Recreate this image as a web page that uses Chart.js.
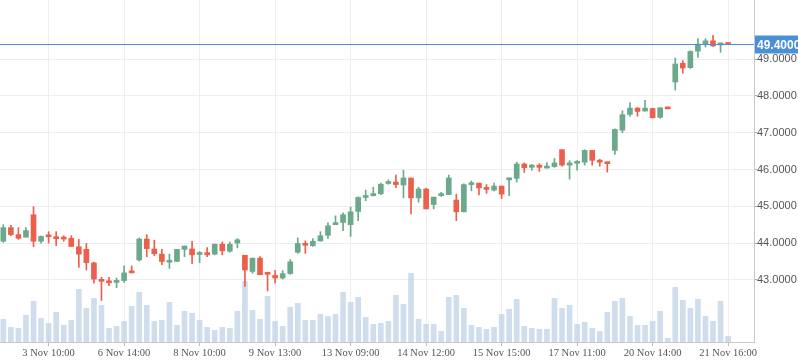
<!DOCTYPE html>
<html>
<head>
<meta charset="utf-8">
<script src="https://cdn.jsdelivr.net/npm/chart.js@4.4.1/dist/chart.umd.min.js"></script>
<style>
  html, body { margin: 0; padding: 0; background: #fff; }
  #wrap { width: 798px; height: 363px; }
</style>
</head>
<body>
<div id="wrap"><canvas id="c" width="798" height="363"></canvas></div>
<script>
// candles, one per period
const opens = [
  44.05, 44.42, 44.23, 44.16, 44.77, 44.05, 44.18, 44.13, 44.13, 44.13,
  43.90, 43.83, 43.46, 42.98, 42.97, 42.93, 42.98, 43.20, 43.54, 44.11,
  43.84, 43.70, 43.48, 43.50, 43.83, 43.84, 43.69, 43.74, 43.70, 43.97,
  43.78, 44.00, 43.67, 43.23, 43.59, 43.16, 43.12, 43.05, 43.17, 43.75,
  43.99, 43.93, 44.06, 44.21, 44.50, 44.56, 44.50, 44.86, 45.24, 45.29,
  45.34, 45.62, 45.66, 45.58, 45.77, 45.23, 45.47, 45.05, 45.29, 45.32,
  45.17, 44.85, 45.59, 45.63, 45.50, 45.44, 45.55, 45.72, 45.76, 46.15,
  46.06, 46.12, 46.04, 46.08, 46.54, 46.12, 46.17, 46.20, 46.52, 46.24,
  46.17, 46.52, 47.07, 47.50, 47.67, 47.59, 47.66, 47.42, 47.66, 48.38,
  48.89, 48.77, 49.22, 49.41, 49.50, 49.39, 49.41
];
const highs = [
  44.50, 44.48, 44.42, 44.42, 44.99, 44.20, 44.31, 44.31, 44.20, 44.20,
  44.10, 43.99, 43.48, 43.07, 43.07, 43.05, 43.38, 43.38, 44.14, 44.23,
  44.08, 43.83, 43.70, 43.83, 43.92, 44.05, 43.77, 43.88, 43.97, 44.03,
  44.03, 44.12, 43.67, 43.59, 43.63, 43.21, 43.26, 43.25, 43.55, 44.14,
  44.06, 44.12, 44.31, 44.55, 44.74, 44.82, 44.98, 45.26, 45.44, 45.52,
  45.63, 45.72, 45.85, 45.98, 45.77, 45.52, 45.49, 45.25, 45.38, 45.85,
  45.33, 45.61, 45.69, 45.63, 45.59, 45.63, 45.55, 45.77, 46.20, 46.18,
  46.14, 46.16, 46.19, 46.30, 46.54, 46.24, 46.24, 46.54, 46.52, 46.28,
  46.18, 47.11, 47.60, 47.82, 47.69, 47.88, 47.67, 47.68, 47.66, 49.03,
  48.96, 49.23, 49.56, 49.56, 49.65, 49.44, 49.41
];
const lows = [
  44.02, 44.20, 44.10, 44.16, 43.90, 44.00, 44.00, 43.93, 44.05, 43.91,
  43.34, 43.27, 42.91, 42.44, 42.84, 42.79, 42.93, 43.19, 43.51, 43.63,
  43.66, 43.41, 43.31, 43.50, 43.63, 43.44, 43.47, 43.63, 43.68, 43.68,
  43.75, 43.87, 42.82, 43.18, 43.14, 42.70, 42.91, 43.02, 43.15, 43.72,
  43.72, 43.91, 44.05, 44.13, 44.50, 44.34, 44.18, 44.61, 45.15, 45.28,
  45.32, 45.60, 45.51, 45.23, 44.79, 45.11, 44.93, 44.93, 45.27, 45.32,
  44.61, 44.85, 45.42, 45.31, 45.35, 45.42, 45.21, 45.29, 45.66, 45.92,
  45.98, 45.95, 46.04, 46.06, 46.09, 45.74, 45.98, 46.12, 46.12, 46.09,
  45.93, 46.41, 47.00, 47.45, 47.45, 47.59, 47.40, 47.40, 47.65, 48.16,
  48.62, 48.75, 49.05, 49.33, 49.35, 49.19, 49.40
];
const closes = [
  44.42, 44.23, 44.13, 44.34, 44.05, 44.18, 44.17, 44.12, 44.11, 43.91,
  43.70, 43.47, 43.02, 42.96, 42.92, 42.98, 43.19, 43.19, 44.11, 43.85,
  43.71, 43.50, 43.49, 43.83, 43.92, 43.68, 43.74, 43.68, 43.97, 43.79,
  43.97, 44.09, 43.27, 43.59, 43.14, 43.15, 43.05, 43.17, 43.49, 43.99,
  43.94, 44.05, 44.20, 44.47, 44.55, 44.77, 44.85, 45.24, 45.28, 45.33,
  45.60, 45.67, 45.59, 45.77, 45.23, 45.47, 44.93, 45.25, 45.32, 45.77,
  44.85, 45.59, 45.63, 45.50, 45.46, 45.55, 45.33, 45.74, 46.15, 46.05,
  46.12, 46.06, 46.05, 46.18, 46.12, 46.18, 46.18, 46.52, 46.25, 46.20,
  46.16, 47.09, 47.49, 47.67, 47.58, 47.67, 47.41, 47.68, 47.65, 48.87,
  48.76, 49.21, 49.41, 49.50, 49.36, 49.41, 49.40
];
const volumes = [
  22.7, 14.7, 13.7, 26.7, 40.7, 23.7, 18.7, 29.7, 16.7, 21.7,
  52.7, 33.7, 43.7, 36.7, 13.7, 15.7, 20.7, 35.7, 49.7, 36.7,
  20.7, 21.7, 39.7, 16.7, 30.7, 28.7, 21.7, 14.7, 11.7, 14.7,
  13.7, 30.7, 60.7, 31.7, 22.7, 45.7, 20.7, 15.7, 34.7, 38.7,
  21.7, 21.7, 27.7, 25.7, 27.7, 49.7, 39.7, 44.7, 24.7, 17.7,
  18.7, 20.7, 46.7, 37.7, 68.7, 22.7, 17.7, 17.7, 10.7, 44.7,
  46.7, 33.7, 16.7, 14.7, 12.7, 14.7, 27.7, 32.7, 42.7, 15.7,
  13.7, 12.7, 12.7, 43.7, 33.7, 36.7, 17.7, 19.7, 13.7, 10.7,
  29.7, 40.7, 43.7, 25.7, 16.7, 16.7, 20.7, 30.7, 3.7, 54.7,
  41.7, 33.7, 42.7, 25.7, 20.7, 40.7, 5.7
];

const tickPos = [6, 16, 26, 36, 46, 56, 66, 76, 86, 96];
const tickText = ['3 Nov 10:00', '6 Nov 14:00', '8 Nov 10:00', '9 Nov 13:00', '13 Nov 09:00',
  '14 Nov 12:00', '15 Nov 15:00', '17 Nov 11:00', '20 Nov 14:00', '21 Nov 16:00'];
const priceTicks = [43, 44, 45, 46, 47, 48, 49];
const lastPrice = 49.40;

const UP = '#6aa98b';
const DOWN = '#ec5f4c';
const LINE = '#4a90d9';

const idx = opens.map((_, i) => i);
const candleColor = ctx => closes[ctx.dataIndex] >= opens[ctx.dataIndex] ? UP : DOWN;

// blue last-price line with its label box on the axis
const priceLine = {
  id: 'priceLine',
  afterDatasetsDraw(chart) {
    const { ctx, chartArea } = chart;
    const y = Math.round(chart.scales.y.getPixelForValue(lastPrice)) + 0.5;
    ctx.save();
    ctx.strokeStyle = LINE;
    ctx.lineWidth = 1;
    ctx.beginPath();
    ctx.moveTo(chartArea.left, y);
    ctx.lineTo(chartArea.right, y);
    ctx.stroke();
    ctx.fillStyle = LINE;
    ctx.fillRect(chartArea.right + 1, y - 9, 44, 18);
    ctx.fillStyle = '#fff';
    ctx.font = 'bold 12px "Liberation Sans"';
    ctx.textBaseline = 'middle';
    ctx.fillText(lastPrice.toFixed(4), chartArea.right + 3, y + 1);
    ctx.restore();
  }
};

new Chart(document.getElementById('c'), {
  type: 'bar',
  data: {
    datasets: [
      {
        label: 'volume', yAxisID: 'yv', order: 3, grouped: false, barThickness: 5,
        data: idx.map(i => ({ x: i, y: volumes[i] })),
        backgroundColor: 'rgba(186,206,230,0.7)',
      },
      {
        label: 'wick', yAxisID: 'y', order: 2, grouped: false, barThickness: 1,
        data: idx.map(i => ({ x: i, y: [lows[i], highs[i]] })),
        backgroundColor: candleColor,
      },
      {
        label: 'body', yAxisID: 'y', order: 1, grouped: false, barThickness: 5, minBarLength: 2,
        data: idx.map(i => ({ x: i, y: [opens[i], closes[i]] })),
        backgroundColor: candleColor,
      },
    ],
  },
  options: {
    responsive: false,
    animation: false,
    layout: { padding: 0 },
    plugins: { legend: { display: false }, tooltip: { enabled: false } },
    scales: {
      x: {
        type: 'linear', min: -0.44, max: 99.43, offset: false,
        afterBuildTicks: s => { s.ticks = tickPos.map(v => ({ value: v })); },
        afterFit: s => { s.height = 21; s.paddingLeft = 0; s.paddingRight = 0; },
        grid: { color: '#eeeeee', tickColor: '#bbbbbb', tickLength: 4, offset: false },
        border: { color: '#c8c8c8' },
        ticks: {
          autoSkip: false, maxRotation: 0, padding: 1, color: '#555',
          font: { family: '"Liberation Serif"', size: 10.5 },
          callback: v => tickText[tickPos.indexOf(v)],
        },
      },
      y: {
        position: 'right', min: 41.31, max: 50.61,
        afterBuildTicks: s => { s.ticks = priceTicks.map(v => ({ value: v })); },
        afterFit: s => { s.width = 44; s.paddingTop = 0; s.paddingBottom = 0; },
        grid: { color: '#eeeeee', tickColor: '#aaaaaa', tickLength: 3 },
        border: { color: '#c8c8c8' },
        ticks: {
          padding: 0, color: '#555',
          font: { family: '"Liberation Sans"', size: 11 },
          callback: v => v.toFixed(4),
        },
      },
      yv: { display: false, min: 0, max: 342 },
    },
  },
  plugins: [priceLine],
});
</script>
</body>
</html>
